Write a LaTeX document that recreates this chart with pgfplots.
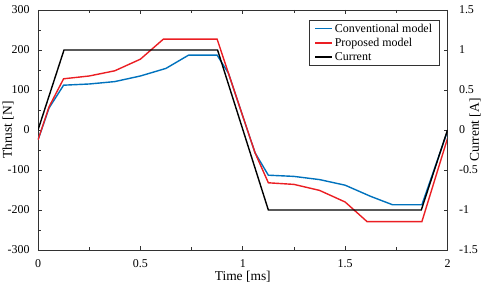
\documentclass[border=0pt]{standalone}
\usepackage{fontspec}
\setmainfont{Liberation Serif}
\usepackage{pgfplots}
\pgfplotsset{compat=1.18}
\definecolor{cblue}{RGB}{0,114,189}
\definecolor{cred}{RGB}{235,30,35}
\definecolor{axgray}{RGB}{50,50,50}
\begin{document}
\begin{tikzpicture}
\pgfplotsset{
  every axis/.append style={
    scale only axis, width=409.5bp, height=240bp,
    font=\fontsize{12}{14}\selectfont,
    /pgf/number format/assume math mode=true,
    tick style={axgray, line width=0.8bp},
    major tick length=4bp, minor tick length=3bp,
    tick align=inside,
    axis line style={axgray, line width=0.9bp},
    xmin=0, xmax=2,
  },
}
\begin{axis}[
  name=ax,
  ymin=-300, ymax=300,
  xtick={0,0.5,1,1.5,2},
  minor x tick num=1,
  ytick={-300,-200,...,300},
  minor y tick num=1,
  xtick pos=both, ytick pos=left,
  xticklabel style={yshift=-6bp},
  yticklabel style={xshift=-5bp},
  xlabel={Time [ms]},
  ylabel={Thrust [N]},
  xlabel style={font=\fontsize{13.5}{15}\selectfont, at={(rel axis cs:0.5,0)}, anchor=center, yshift=-27bp},
  ylabel style={font=\fontsize{13.5}{15}\selectfont, at={(rel axis cs:0,0.5)}, anchor=center, yshift=30bp},
  legend style={at={(axis description cs:1,1)}, anchor=north east,
    xshift=-8bp, yshift=-10bp, draw=axgray, line width=0.8bp,
    inner xsep=5bp, inner ysep=1.5bp, row sep=0.5bp,
    font=\fontsize{12}{14}\selectfont, cells={anchor=west}},
  legend image code/.code={\draw[#1] (0bp,0bp) -- (17bp,0bp);},
]
\addplot[cblue, line width=1.4bp, forget plot] coordinates {
  (0,-25) (0.054,55) (0.125,112) (0.25,115) (0.375,121) (0.5,135) (0.625,154) (0.735,187)
  (0.875,187) (0.93,142) (1.06,-57) (1.125,-113)
  (1.25,-116) (1.375,-124) (1.5,-138) (1.625,-166) (1.732,-187) (1.875,-187) (2,-3)
};
\addplot[cred, line width=1.4bp, forget plot] coordinates {
  (0,-25) (0.054,58) (0.125,128) (0.25,135) (0.375,148) (0.5,177) (0.612,227)
  (0.875,227) (0.93,142) (1.06,-57) (1.125,-132)
  (1.25,-136) (1.375,-151) (1.5,-180) (1.607,-229) (1.875,-229) (2,-21)
};
\addlegendimage{cblue, line width=1.4bp}
\addlegendentry{Conventional model}
\addlegendimage{cred, line width=1.4bp}
\addlegendentry{Proposed model}
\addlegendimage{black, line width=1.4bp}
\addlegendentry{Current}
\end{axis}
\begin{axis}[
  ymin=-1.5, ymax=1.5,
  axis x line=none,
  axis y line*=right,
  ytick={-1.5,-1,...,1.5},
  ytick pos=right,
  yticklabel style={xshift=8bp},
  ylabel={Current [A]},
  ylabel style={font=\fontsize{13.5}{15}\selectfont, at={(rel axis cs:1,0.5)}, anchor=center, yshift=-27.5bp},
]
\addplot[black, line width=1.4bp] coordinates {
  (0,0) (0.127,1) (0.877,1) (1.125,-1) (1.872,-1) (2,0)
};
\end{axis}
\pgfresetboundingbox
\path ([shift={(-38bp,-34bp)}]ax.south west) rectangle ([shift={(34.5bp,10bp)}]ax.north east);
\end{tikzpicture}
\end{document}
